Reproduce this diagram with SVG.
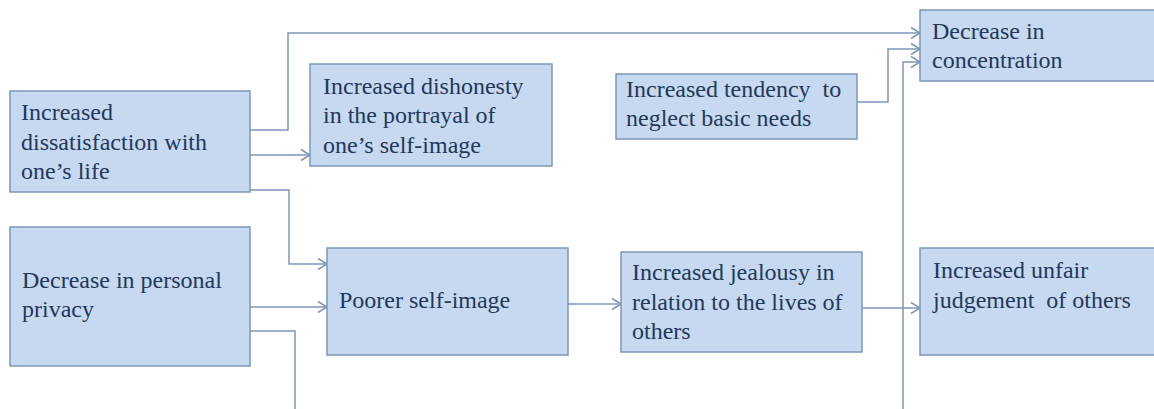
<svg xmlns="http://www.w3.org/2000/svg" width="1154" height="409" viewBox="0 0 1154 409">
  <style>
    .box { fill: #c6d9f0; stroke: #7e97b9; stroke-width: 1.5; }
    text { font-family: 'Liberation Serif'; font-size: 24px; fill: #24385a; }
    .wire { fill: none; stroke: #7e97b9; stroke-width: 1.5; }
  </style>
  <defs>
    <marker id="chev" markerUnits="userSpaceOnUse" markerWidth="12" markerHeight="14" viewBox="-10 -7 12 14" refX="0" refY="0" orient="auto">
      <path d="M-9,-5.5 L0,0 L-9,5.5" fill="none" stroke="#7e97b9" stroke-width="1.5"/>
    </marker>
  </defs>

  <rect width="1154" height="409" fill="#ffffff"/>

  <g id="connectors">
    <path class="wire" d="M250,130 H288 V33 H920" marker-end="url(#chev)"/>
    <path class="wire" d="M250,155 H310" marker-end="url(#chev)"/>
    <path class="wire" d="M250,190 H289 V264 H327" marker-end="url(#chev)"/>
    <path class="wire" d="M250,307 H327" marker-end="url(#chev)"/>
    <path class="wire" d="M250,331 H295 V409"/>
    <path class="wire" d="M857,102 H888 V49 H920" marker-end="url(#chev)"/>
    <path class="wire" d="M903,409 V62 H920" marker-end="url(#chev)"/>
    <path class="wire" d="M568,304 H621" marker-end="url(#chev)"/>
    <path class="wire" d="M862,308 H920" marker-end="url(#chev)"/>
  </g>

  <g id="dissatisfaction">
    <rect class="box" x="10" y="91" width="240" height="101"/>
    <text x="21" y="120">Increased</text>
    <text x="21" y="150">dissatisfaction with</text>
    <text x="21" y="179">one’s life</text>
  </g>

  <g id="dishonesty">
    <rect class="box" x="310" y="64" width="242" height="102"/>
    <text x="323" y="94">Increased dishonesty</text>
    <text x="323" y="123">in the portrayal of</text>
    <text x="323" y="153">one’s self-image</text>
  </g>

  <g id="neglect">
    <rect class="box" x="616" y="74" width="241" height="65"/>
    <text x="626" y="97" xml:space="preserve">Increased tendency  to</text>
    <text x="626" y="126">neglect basic needs</text>
  </g>

  <g id="concentration">
    <rect class="box" x="920" y="10" width="240" height="71"/>
    <text x="932" y="39">Decrease in</text>
    <text x="932" y="68">concentration</text>
  </g>

  <g id="privacy">
    <rect class="box" x="10" y="227" width="240" height="139"/>
    <text x="22" y="288">Decrease in personal</text>
    <text x="22" y="317">privacy</text>
  </g>

  <g id="self-image">
    <rect class="box" x="327" y="248" width="241" height="107"/>
    <text x="339" y="308">Poorer self-image</text>
  </g>

  <g id="jealousy">
    <rect class="box" x="621" y="252" width="241" height="100"/>
    <text x="632" y="280">Increased jealousy in</text>
    <text x="632" y="310">relation to the lives of</text>
    <text x="632" y="339">others</text>
  </g>

  <g id="judgement">
    <rect class="box" x="920" y="248" width="240" height="107"/>
    <text x="933" y="278">Increased unfair</text>
    <text x="933" y="308" xml:space="preserve">judgement  of others</text>
  </g>
</svg>
